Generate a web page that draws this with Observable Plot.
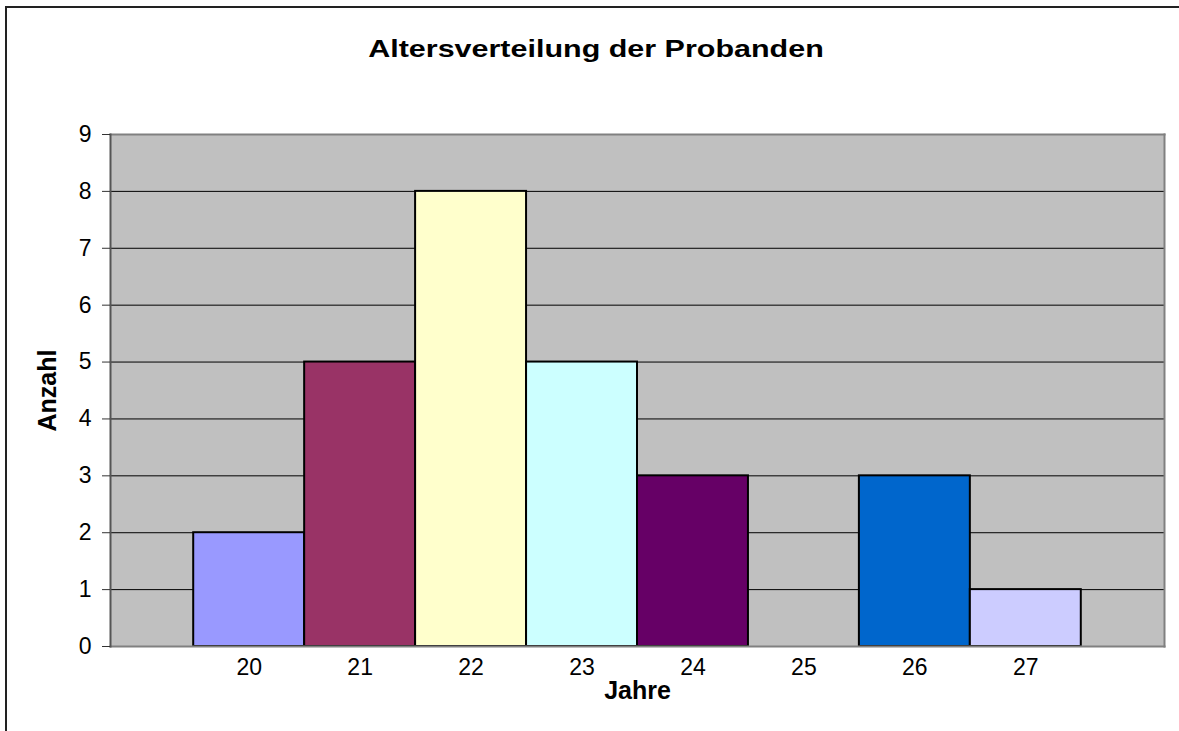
<!DOCTYPE html>
<html>
<head>
<meta charset="utf-8">
<script src="https://cdn.jsdelivr.net/npm/d3@7"></script>
<script src="https://cdn.jsdelivr.net/npm/@observablehq/plot@0.6"></script>
<style>
  html, body { margin: 0; padding: 0; background: #fff; overflow: hidden; }
  #wrap { position: relative; width: 1179px; height: 731px; font-family: "Liberation Sans", Arial, sans-serif; }
  #frame { position: absolute; left: 5px; top: 6px; width: 1300px; height: 900px; border-left: 2px solid #222; border-top: 2px solid #222; box-sizing: border-box; }
  #title { position: absolute; left: 0; width: 1192px; top: 37px; text-align: center; font-weight: bold; font-size: 24px; line-height: 24px; color: #000; transform: scaleX(1.27); transform-origin: 596px 0; }
  #chart { position: absolute; left: 0; top: 0; }
  #chart svg { font-family: "Liberation Sans", Arial, sans-serif; }
  #chart svg text { font-size: 23px !important; }
  #chart svg g[aria-label="x-axis label"] text, #chart svg g[aria-label="y-axis label"] text { font-weight: bold; font-size: 25px !important; }
</style>
</head>
<body>
<div id="wrap">
  <div id="frame"></div>
  <div id="chart"></div>
  <div id="title">Altersverteilung der Probanden</div>
</div>
<script>
const titleText = "Altersverteilung der Probanden";
const ages = [20, 21, 22, 23, 24, 25, 26, 27];
const counts = [2, 5, 8, 5, 3, 0, 3, 1];
const barColors = ["#9999FF", "#993366", "#FFFFCC", "#CCFFFF", "#660066", "#FF8080", "#0066CC", "#CCCCFF"];
const yTicks = [0, 1, 2, 3, 4, 5, 6, 7, 8, 9];
const gridTicks = [1, 2, 3, 4, 5, 6, 7, 8];
const xLabel = "Jahre";
const yLabel = "Anzahl";

const data = ages.map((a, i) => ({age: a, count: counts[i], color: barColors[i]}));

const chart = Plot.plot({
  width: 1179,
  height: 731,
  marginLeft: 110,
  marginRight: 15,
  marginTop: 134,
  marginBottom: 85,
  style: {fontFamily: "'Liberation Sans', Arial, sans-serif", fontSize: "23px", color: "#000", background: "transparent"},
  x: {domain: [18.75, 28.25]},
  y: {domain: [0, 9]},
  marks: [
    Plot.frame({fill: "#C0C0C0", stroke: "none"}),
    Plot.ruleY(gridTicks, {stroke: "#000", strokeWidth: 1}),
    Plot.rectY(data.filter(d => d.count > 0), {
      x1: d => d.age - 0.5,
      x2: d => d.age + 0.5,
      y1: 0,
      y2: "count",
      fill: "color",
      stroke: "#000",
      strokeWidth: 2
    }),
    Plot.frame({anchor: "top", stroke: "#808080", strokeWidth: 2}),
    Plot.frame({anchor: "right", stroke: "#808080", strokeWidth: 2}),
    Plot.frame({anchor: "bottom", stroke: "#808080", strokeWidth: 2}),
    Plot.frame({anchor: "left", stroke: "#555", strokeWidth: 2}),
    Plot.axisY({
      ticks: yTicks,
      tickSize: 8,
      tickPadding: 11,
      stroke: "#333",
      label: yLabel,
      labelAnchor: "center",
      labelOffset: 72,
      labelArrow: "none"
    }),
    Plot.axisX({
      ticks: ages,
      tickSize: 0,
      tickPadding: 12,
      tickFormat: d => String(d),
      label: xLabel,
      labelAnchor: "center",
      labelOffset: 52,
      labelArrow: "none"
    })
  ]
});
document.getElementById("chart").appendChild(chart);
</script>
</body>
</html>
